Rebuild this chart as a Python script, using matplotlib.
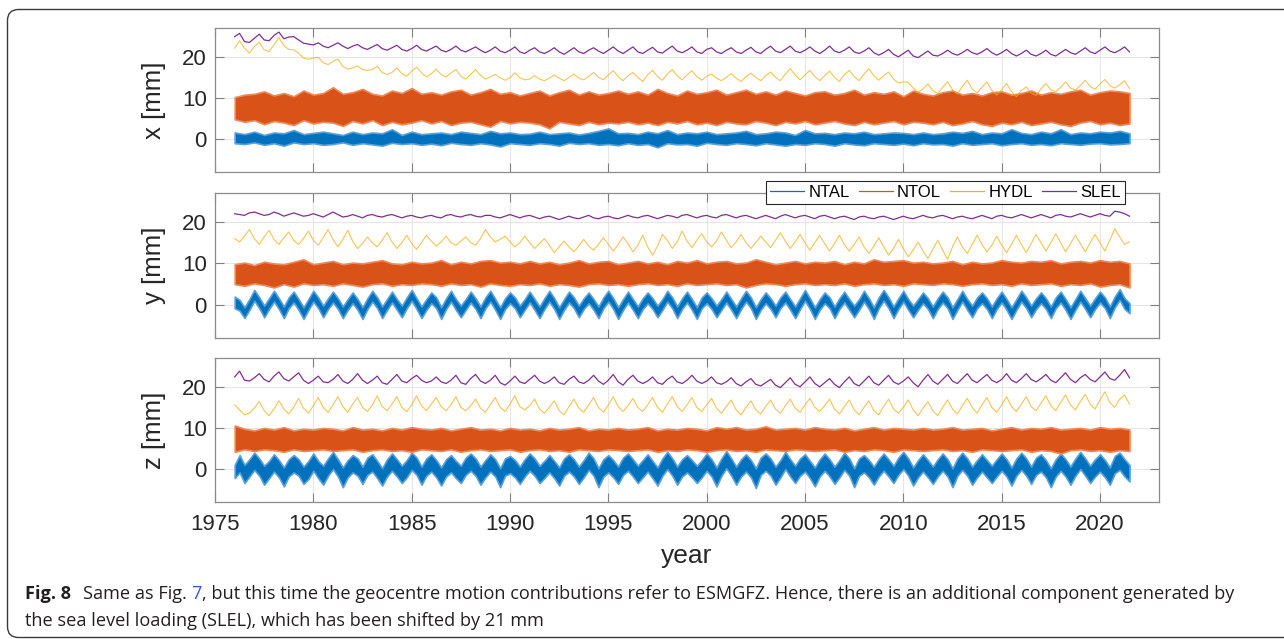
import numpy as np
import matplotlib
matplotlib.use('Agg')
import matplotlib.pyplot as plt
from matplotlib.lines import Line2D
from matplotlib.patches import FancyBboxPatch

plt.rcParams['font.family'] = ['Liberation Sans', 'DejaVu Sans']

# Geocentre motion contributions from ESMGFZ loading models [mm], 1976.0 - 2021.5.
# HYDL/SLEL and the NTAL y/z envelopes are quarterly samples, the NTOL and NTAL-x
# envelopes (lo/hi of the daily scatter) are half-yearly samples.
names = ['NTAL', 'NTOL', 'HYDL', 'SLEL']
colors = ['#0072BD', '#D95319', '#EDB120', '#7E2F8E']
ylabels = ['x [mm]', 'y [mm]', 'z [mm]']
year_ticks = [1975, 1980, 1985, 1990, 1995, 2000, 2005, 2010, 2015, 2020]
mm_ticks = [0, 10, 20]

# ---------------- x component ----------------
ntal_x_hi = [
    1.6, 1.2, 1.8, 1.0, 1.6, 1.4, 2.2, 1.2, 1.5, 1.8,
    1.4, 1.0, 1.8, 1.2, 1.6, 1.4, 2.4, 1.0, 1.8, 1.2,
    1.4, 1.6, 1.2, 1.8, 1.5, 1.2, 2.0, 1.4, 1.6, 1.2,
    1.3, 1.8, 1.2, 1.4, 1.6, 1.1, 1.5, 2.0, 2.6, 1.4,
    1.5, 1.2, 1.8, 1.4, 2.2, 1.2, 1.6, 1.4, 1.8, 1.2,
    1.4, 1.6, 2.0, 1.2, 1.4, 1.8, 1.6, 1.0, 2.2, 1.4,
    1.5, 1.2, 1.6, 1.4, 1.8, 1.2, 1.4, 1.6, 1.5, 1.2,
    1.6, 1.2, 1.4, 1.8, 1.5, 2.0, 1.2, 1.6, 1.4, 2.4,
    1.5, 1.2, 1.8, 1.4, 2.4, 1.2, 1.6, 1.4, 1.8, 1.6,
    2.0, 1.4,
]
ntal_x_lo = [
    -1.0, -1.2, -0.8, -1.4, -1.0, -1.6, -0.8, -1.2, -1.0, -1.4,
    -1.2, -0.8, -1.4, -1.0, -1.3, -1.6, -0.9, -1.2, -1.0, -1.4,
    -1.1, -1.5, -0.9, -1.2, -1.4, -1.0, -1.3, -1.8, -1.0, -1.2,
    -1.4, -1.0, -1.2, -1.6, -0.9, -1.2, -1.0, -1.4, -1.2, -1.5,
    -1.0, -1.4, -1.2, -2.0, -1.0, -1.3, -1.2, -1.6, -0.9, -1.2,
    -1.4, -1.0, -1.2, -1.5, -1.0, -1.3, -1.6, -1.2, -1.4, -1.0,
    -1.2, -1.6, -1.0, -1.3, -1.5, -1.0, -1.2, -1.4, -1.1, -1.5,
    -1.0, -1.3, -1.2, -1.6, -1.0, -1.4, -1.2, -1.0, -1.5, -1.2,
    -1.0, -1.4, -1.2, -1.5, -1.0, -1.2, -1.4, -1.1, -1.0, -1.3,
    -1.2, -1.0,
]
ntol_x_hi = [
    10.2, 10.8, 11.0, 11.6, 10.6, 11.2, 10.4, 11.8, 10.8, 11.2,
    12.6, 11.0, 11.4, 12.2, 11.0, 10.6, 11.8, 11.2, 12.4, 11.0,
    11.4, 10.8, 11.6, 12.0, 10.8, 11.4, 12.2, 11.0, 11.4, 10.6,
    11.2, 11.8, 10.6, 11.4, 12.0, 10.8, 11.6, 10.8, 11.2, 11.8,
    11.0, 11.6, 10.8, 12.2, 11.2, 10.6, 11.8, 11.0, 11.4, 12.0,
    10.8, 11.4, 12.0, 11.0, 11.6, 10.8, 11.8, 11.2, 10.6, 11.4,
    11.6, 10.8, 11.2, 12.0, 10.8, 11.4, 11.0, 11.6, 10.4, 11.8,
    11.0, 10.6, 11.4, 11.8, 10.8, 11.2, 10.6, 11.4, 11.6, 10.8,
    11.2, 11.8, 10.8, 11.4, 11.0, 11.6, 12.0, 10.8, 11.4, 11.8,
    11.6, 11.2,
]
ntol_x_lo = [
    4.8, 4.2, 4.6, 3.6, 4.4, 4.0, 3.4, 4.6, 3.8, 4.2,
    4.0, 3.2, 4.4, 3.8, 4.6, 3.4, 4.2, 3.6, 4.0, 4.6,
    3.8, 4.4, 3.4, 4.0, 4.2, 3.6, 3.0, 4.4, 3.8, 4.2,
    4.0, 3.6, 2.6, 4.2, 3.8, 3.4, 4.2, 3.6, 4.0, 3.8,
    4.2, 3.6, 4.0, 3.4, 4.2, 3.8, 4.4, 3.6, 4.0, 3.4,
    4.2, 3.8, 3.6, 4.4, 4.0, 3.4, 4.2, 3.8, 4.4, 3.6,
    4.0, 4.4, 3.8, 3.4, 4.2, 3.6, 4.0, 4.4, 3.6, 4.2,
    4.0, 3.6, 4.2, 3.4, 3.8, 4.4, 3.6, 3.2, 4.0, 3.6,
    4.2, 3.4, 3.8, 4.2, 3.6, 3.2, 4.0, 4.4, 3.6, 4.0,
    3.4, 3.8,
]
hydl_x = [
    22.1, 23.9, 22.1, 20.9, 22.5, 23.5, 21.7, 21.3, 22.9, 24.7, 22.7, 21.8, 21.7, 20.9, 19.7, 19.4, 19.7, 19.9, 18.6, 18.1,
    18.9, 19.4, 17.7, 17.0, 17.3, 17.8, 16.9, 16.7, 16.9, 17.7, 16.2, 15.7, 16.2, 17.3, 15.9, 15.3, 16.5, 17.5, 16.1, 15.1,
    15.9, 17.0, 15.7, 15.1, 16.1, 16.9, 15.3, 14.6, 15.7, 16.9, 15.5, 14.6, 15.1, 15.7, 14.9, 14.3, 14.9, 16.1, 14.9, 14.4,
    14.6, 15.4, 14.6, 14.2, 14.8, 15.6, 14.8, 14.2, 15.0, 15.8, 14.8, 14.4, 15.2, 16.2, 15.0, 14.4, 15.6, 16.6, 15.2, 14.2,
    15.4, 16.2, 15.0, 14.0, 15.6, 16.7, 15.2, 14.3, 15.8, 16.9, 15.4, 14.4, 15.6, 16.6, 15.2, 14.3, 15.3, 15.8, 14.8, 14.2,
    15.0, 15.9, 14.8, 14.0, 15.2, 16.0, 15.0, 14.2, 15.4, 16.3, 15.0, 14.2, 15.8, 17.1, 15.6, 14.4, 15.6, 16.7, 15.2, 14.2,
    15.4, 16.5, 15.0, 14.0, 15.6, 16.7, 15.2, 14.2, 15.8, 17.1, 15.4, 14.3, 15.4, 16.3, 14.6, 13.6, 13.9, 13.8, 12.4, 11.4,
    12.2, 13.4, 11.8, 11.0, 12.6, 13.9, 12.0, 11.0, 12.8, 14.3, 12.2, 11.2, 12.6, 13.9, 11.8, 10.7, 12.0, 13.5, 11.6, 10.3,
    11.8, 12.7, 11.2, 10.6, 12.2, 13.5, 12.0, 11.5, 12.6, 13.9, 12.4, 11.9, 13.0, 14.3, 12.8, 12.1, 13.4, 14.5, 13.0, 12.4,
    13.2, 14.2, 12.3,
]
slel_x = [
    24.9, 25.7, 23.7, 23.5, 24.5, 25.5, 24.1, 23.9, 25.2, 26.0, 24.4, 24.8, 24.9, 24.1, 23.3, 23.1, 22.9, 23.4, 22.6, 22.2,
    22.8, 23.4, 22.6, 22.0, 22.6, 23.0, 22.2, 21.8, 22.4, 23.0, 22.0, 21.6, 22.2, 22.8, 21.8, 21.4, 22.0, 22.8, 21.8, 21.4,
    22.0, 22.6, 21.6, 21.2, 21.8, 22.6, 21.6, 21.2, 21.8, 22.4, 21.6, 21.0, 21.6, 22.4, 21.4, 21.0, 21.6, 22.4, 21.2, 20.8,
    21.6, 22.2, 21.2, 20.8, 21.4, 22.2, 21.2, 20.6, 21.4, 22.2, 21.2, 20.8, 21.6, 22.2, 21.4, 20.8, 21.6, 22.4, 21.4, 20.8,
    21.6, 22.4, 21.2, 20.8, 21.6, 22.3, 21.2, 20.9, 21.8, 22.6, 21.4, 21.0, 21.6, 22.4, 21.2, 20.8, 21.8, 22.2, 21.2, 20.8,
    21.6, 22.2, 21.2, 20.8, 21.6, 22.3, 21.2, 20.8, 21.8, 22.6, 21.4, 21.0, 21.8, 22.6, 21.4, 21.0, 21.6, 22.4, 21.4, 20.8,
    21.6, 22.6, 21.4, 21.0, 21.6, 22.4, 21.2, 20.8, 21.4, 22.2, 21.0, 20.4, 21.0, 21.8, 20.6, 20.0, 20.8, 21.6, 20.2, 19.8,
    20.6, 21.4, 20.4, 20.2, 20.8, 21.6, 20.8, 20.4, 21.0, 21.8, 21.0, 20.6, 21.2, 22.0, 21.0, 20.4, 21.0, 21.8, 20.8, 20.2,
    20.8, 21.6, 20.6, 20.2, 20.8, 21.6, 20.6, 20.2, 21.0, 21.8, 21.0, 20.6, 21.4, 22.2, 21.2, 20.8, 21.6, 22.4, 21.4, 21.0,
    21.6, 22.4, 21.2,
]

# ---------------- y component ----------------
ntal_y_hi = [
    2.0, 1.2, -0.6, 1.4, 3.6, 1.8, -0.2, 1.6, 3.4, 1.6, -0.4, 1.8, 3.2, 1.4, -0.6, 1.4, 3.4, 1.8, -0.2, 1.6,
    3.2, 1.6, -0.4, 1.4, 3.0, 1.4, -0.6, 1.6, 3.4, 1.8, -0.4, 1.4, 3.2, 1.4, -0.2, 1.8, 3.6, 1.6, -0.4, 1.4,
    3.0, 1.8, -0.6, 1.6, 3.4, 1.4, -0.2, 1.4, 3.2, 1.6, -0.4, 1.8, 3.4, 1.4, -0.6, 1.6, 3.0, 1.8, -0.2, 1.4,
    3.2, 1.4, -0.4, 1.6, 3.4, 1.6, -0.6, 1.4, 3.2, 1.8, -0.2, 1.6, 3.0, 1.4, -0.4, 1.8, 3.4, 1.6, -0.6, 1.4,
    3.2, 1.4, -0.4, 1.6, 3.0, 1.6, -0.2, 1.4, 3.4, 1.8, -0.4, 1.6, 3.2, 1.4, -0.6, 1.8, 3.0, 1.6, -0.2, 1.4,
    3.2, 1.4, -0.4, 1.6, 3.4, 1.8, -0.6, 1.4, 3.0, 1.6, -0.2, 1.8, 3.2, 1.4, -0.4, 1.6, 3.6, 1.6, -0.6, 1.4,
    3.0, 1.8, -0.4, 1.6, 3.2, 1.4, -0.2, 1.4, 3.4, 1.6, -0.6, 1.8, 3.6, 1.8, -0.4, 1.6, 3.4, 1.4, -0.2, 1.4,
    3.0, 1.6, -0.4, 1.6, 3.2, 1.8, -0.6, 1.4, 3.4, 1.4, -0.2, 1.8, 3.0, 1.6, -0.4, 1.6, 3.2, 1.4, -0.6, 1.4,
    3.4, 1.8, -0.2, 1.6, 3.0, 1.6, -0.4, 1.8, 3.2, 1.4, -0.6, 1.4, 3.4, 1.6, -0.2, 1.6, 3.2, 1.8, -0.4, 2.0,
    3.8, 1.6, 0.4,
]
ntal_y_lo = [
    -0.8, -1.4, -3.2, -1.2, 1.0, -0.8, -3.0, -1.0, 0.8, -1.0, -3.2, -0.8, 0.6, -1.2, -3.4, -1.2, 0.8, -0.8, -3.0, -1.0,
    0.6, -1.0, -3.2, -1.2, 0.4, -1.2, -3.4, -1.0, 0.8, -0.8, -3.2, -1.2, 0.6, -1.2, -3.0, -0.8, 1.0, -1.0, -3.2, -1.2,
    0.4, -0.8, -3.4, -1.0, 0.8, -1.2, -3.0, -1.2, 0.6, -1.0, -3.2, -0.8, 0.8, -1.2, -3.4, -1.0, 0.4, -0.8, -3.0, -1.2,
    0.6, -1.2, -3.2, -1.0, 0.8, -1.0, -3.4, -1.2, 0.6, -0.8, -3.0, -1.0, 0.4, -1.2, -3.2, -0.8, 0.8, -1.0, -3.4, -1.2,
    0.6, -1.2, -3.2, -1.0, 0.4, -1.0, -3.0, -1.2, 0.8, -0.8, -3.2, -1.0, 0.6, -1.2, -3.4, -0.8, 0.4, -1.0, -3.0, -1.2,
    0.6, -1.2, -3.2, -1.0, 0.8, -0.8, -3.4, -1.2, 0.4, -1.0, -3.0, -0.8, 0.6, -1.2, -3.2, -1.0, 1.0, -1.0, -3.4, -1.2,
    0.4, -0.8, -3.2, -1.0, 0.6, -1.2, -3.0, -1.2, 0.8, -1.0, -3.4, -0.8, 1.0, -0.8, -3.2, -1.0, 0.8, -1.2, -3.0, -1.2,
    0.4, -1.0, -3.2, -1.0, 0.6, -0.8, -3.4, -1.2, 0.8, -1.2, -3.0, -0.8, 0.4, -1.0, -3.2, -1.0, 0.6, -1.2, -3.4, -1.2,
    0.8, -0.8, -3.0, -1.0, 0.4, -1.0, -3.2, -0.8, 0.6, -1.2, -3.4, -1.2, 0.8, -1.0, -3.0, -1.0, 0.6, -0.8, -3.2, -0.6,
    1.2, -1.0, -2.0,
]
ntol_y_hi = [
    9.8, 10.2, 9.6, 10.4, 10.0, 9.8, 10.4, 11.0, 9.8, 10.2,
    10.6, 9.8, 10.2, 10.0, 10.4, 10.8, 10.0, 9.8, 10.4, 10.0,
    10.2, 10.8, 9.8, 10.4, 10.0, 10.6, 10.8, 10.2, 10.4, 10.0,
    10.6, 10.0, 10.4, 9.8, 10.2, 10.8, 10.0, 10.4, 10.6, 9.8,
    10.2, 10.6, 10.0, 10.4, 9.8, 10.6, 10.2, 10.8, 10.0, 10.4,
    10.6, 10.0, 10.2, 11.0, 10.4, 9.8, 10.2, 10.6, 10.0, 10.4,
    10.2, 10.6, 9.8, 10.4, 10.0, 11.0, 10.4, 10.6, 10.8, 10.2,
    10.4, 10.0, 10.2, 10.6, 9.8, 10.4, 10.0, 10.2, 10.8, 10.4,
    10.2, 10.6, 10.4, 10.8, 10.0, 10.4, 10.6, 10.2, 10.8, 10.4,
    10.6, 10.0,
]
ntol_y_lo = [
    5.0, 4.6, 5.2, 4.8, 4.2, 5.0, 4.4, 5.2, 4.8, 5.0,
    4.6, 5.2, 4.8, 4.4, 5.0, 5.2, 4.6, 5.0, 4.8, 5.2,
    5.0, 4.6, 5.2, 4.8, 5.0, 4.4, 5.2, 4.8, 4.6, 5.0,
    4.8, 5.2, 4.6, 5.0, 4.8, 4.4, 5.0, 5.2, 4.8, 5.0,
    4.6, 5.0, 5.2, 4.8, 5.0, 4.6, 5.2, 4.8, 5.0, 5.2,
    4.8, 5.0, 4.2, 4.8, 5.2, 5.0, 4.6, 5.0, 5.2, 4.8,
    5.0, 4.8, 5.2, 4.6, 5.0, 5.2, 4.8, 5.0, 4.6, 5.2,
    5.0, 4.8, 5.2, 5.0, 4.6, 5.0, 5.2, 4.8, 5.0, 4.6,
    5.2, 4.8, 5.0, 5.2, 4.6, 5.0, 4.8, 5.2, 4.4, 4.8,
    5.0, 4.2,
]
hydl_y = [
    16.0, 15.2, 16.6, 18.2, 16.0, 14.6, 16.4, 18.0, 15.8, 14.6, 16.2, 17.6, 15.6, 14.6, 16.0, 17.8, 15.6, 14.4, 16.2, 18.2,
    15.8, 14.0, 15.8, 18.0, 15.4, 13.6, 14.8, 16.4, 15.0, 14.0, 15.6, 17.4, 15.2, 13.6, 15.0, 16.8, 14.8, 13.4, 15.0, 16.8,
    15.4, 14.2, 15.2, 16.6, 15.0, 14.4, 15.4, 16.4, 15.0, 14.4, 16.0, 18.2, 16.4, 15.2, 15.8, 16.6, 15.2, 14.0, 15.0, 16.6,
    15.0, 13.6, 14.8, 16.0, 14.4, 12.6, 14.0, 15.4, 14.0, 12.8, 14.2, 15.8, 14.2, 13.2, 14.6, 16.2, 14.6, 13.0, 14.6, 16.4,
    14.8, 12.8, 14.4, 16.8, 14.0, 12.0, 14.2, 17.0, 15.6, 13.6, 15.2, 17.8, 15.4, 13.8, 15.6, 17.2, 15.2, 14.0, 15.4, 17.6,
    15.6, 13.8, 15.2, 17.0, 15.0, 13.6, 15.0, 16.6, 15.2, 13.8, 15.6, 17.4, 15.4, 13.6, 15.2, 17.0, 15.0, 13.2, 15.0, 16.8,
    14.8, 13.0, 14.8, 16.8, 14.6, 13.0, 14.6, 16.4, 14.0, 12.4, 14.2, 16.2, 14.0, 12.0, 13.6, 15.8, 13.6, 11.6, 13.2, 15.2,
    13.0, 11.2, 13.4, 15.6, 13.2, 11.0, 14.0, 16.4, 14.0, 12.4, 14.6, 16.8, 14.6, 12.8, 14.4, 16.6, 14.4, 12.6, 14.6, 16.8,
    14.6, 12.6, 14.8, 17.0, 15.0, 13.0, 15.0, 17.2, 15.0, 12.8, 14.8, 16.8, 14.8, 12.8, 15.0, 17.0, 15.0, 13.0, 15.6, 18.4,
    16.4, 14.6, 15.2,
]
slel_y = [
    22.0, 21.8, 21.6, 22.2, 22.4, 22.0, 21.6, 21.8, 22.4, 22.0, 21.4, 21.8, 22.2, 21.8, 21.4, 21.6, 22.0, 21.6, 21.2, 21.8,
    22.4, 21.8, 21.2, 21.4, 21.8, 21.4, 21.0, 21.6, 21.8, 21.4, 21.2, 21.6, 21.8, 21.4, 21.0, 21.4, 21.6, 21.2, 21.0, 21.4,
    21.6, 21.2, 21.0, 21.6, 21.8, 21.4, 21.2, 21.6, 21.8, 21.4, 21.2, 21.6, 21.6, 21.2, 21.0, 21.4, 21.8, 21.4, 21.0, 21.4,
    21.6, 21.2, 20.8, 21.2, 21.4, 21.0, 20.6, 21.0, 21.4, 21.0, 20.8, 21.2, 21.6, 21.0, 20.8, 21.2, 21.4, 21.0, 20.8, 21.2,
    21.6, 21.2, 21.0, 21.4, 21.6, 21.2, 20.8, 21.2, 21.6, 21.4, 21.0, 21.6, 21.8, 21.4, 21.0, 21.4, 21.6, 21.2, 21.0, 21.6,
    21.8, 21.4, 21.0, 21.4, 21.6, 21.2, 20.8, 21.2, 21.6, 21.2, 20.8, 21.4, 21.8, 21.4, 21.0, 21.4, 21.6, 21.2, 20.8, 21.4,
    21.6, 21.2, 20.8, 21.2, 21.4, 21.0, 20.6, 21.2, 21.4, 21.0, 20.8, 21.2, 21.4, 21.0, 20.6, 21.0, 21.4, 21.0, 20.8, 21.2,
    21.6, 21.2, 21.0, 21.4, 21.6, 21.2, 20.8, 21.2, 21.4, 21.0, 20.8, 21.2, 21.6, 21.2, 20.8, 21.4, 21.6, 21.2, 21.0, 21.4,
    21.8, 21.4, 21.0, 21.4, 21.8, 21.4, 21.0, 21.6, 21.8, 21.4, 21.2, 21.6, 22.0, 21.6, 21.2, 21.6, 22.0, 21.6, 21.4, 22.6,
    22.4, 22.0, 21.4,
]

# ---------------- z component ----------------
ntal_z_hi = [
    1.0, 3.4, 1.0, 2.4, 4.0, 2.6, 0.8, 2.0, 3.6, 2.2, 0.4, 2.4, 3.4, 2.4, 0.6, 2.0, 3.8, 2.0, 0.8, 2.6,
    4.2, 2.4, 0.4, 2.2, 3.4, 2.6, 0.6, 2.8, 3.6, 2.0, 0.2, 2.4, 3.8, 2.4, 0.8, 2.2, 4.0, 2.8, 0.6, 2.6,
    3.6, 2.2, 0.4, 2.4, 3.4, 2.0, 0.8, 2.8, 3.8, 2.6, 0.6, 2.2, 3.6, 2.4, 0.2, 2.6, 3.2, 2.2, 0.6, 2.4,
    3.8, 2.6, 0.8, 2.0, 3.4, 2.0, 0.4, 2.6, 3.6, 2.4, 0.6, 2.2, 4.0, 2.6, 0.2, 2.4, 3.4, 2.2, 0.6, 2.8,
    3.8, 2.4, 0.8, 2.2, 3.6, 2.0, 0.4, 2.6, 4.2, 2.6, 0.6, 2.4, 3.4, 2.2, 0.8, 2.2, 3.8, 2.4, 0.4, 2.6,
    4.4, 2.6, 0.6, 2.4, 3.6, 2.2, 0.2, 2.8, 3.8, 2.6, 0.6, 2.2, 4.2, 2.4, 0.8, 2.6, 3.6, 2.0, 0.4, 2.4,
    3.8, 2.4, 0.6, 2.2, 4.0, 2.6, 0.2, 2.6, 3.4, 2.2, 0.6, 2.4, 3.8, 2.4, 0.8, 2.8, 4.2, 2.6, 0.4, 2.2,
    3.6, 2.2, 0.6, 2.4, 3.8, 2.4, 0.2, 2.6, 4.0, 2.6, 0.6, 2.2, 3.6, 2.2, 0.8, 2.4, 3.8, 2.4, 0.4, 2.6,
    4.0, 2.6, 0.6, 2.8, 3.6, 2.2, 0.2, 2.4, 3.8, 2.4, 0.6, 2.6, 4.2, 2.6, 0.8, 2.4, 3.6, 2.2, 0.4, 3.2,
    4.0, 2.4, 1.0,
]
ntal_z_lo = [
    -2.2, -0.8, -3.4, -1.8, -0.2, -1.6, -3.8, -2.2, -0.6, -2.0, -4.2, -1.8, -0.8, -1.6, -3.6, -2.4, -0.4, -2.2, -3.8, -1.6,
    0.0, -1.8, -4.4, -2.0, -0.8, -1.6, -3.6, -1.4, -0.6, -2.2, -4.0, -1.8, -0.4, -1.8, -3.4, -2.0, -0.2, -1.4, -3.8, -1.6,
    -0.6, -2.0, -4.0, -1.8, -0.8, -2.2, -3.4, -1.4, -0.4, -1.6, -3.8, -2.0, -0.6, -1.8, -4.4, -1.6, -1.0, -2.0, -3.6, -1.8,
    -0.4, -1.6, -3.4, -2.2, -0.8, -2.2, -4.0, -1.6, -0.6, -1.8, -3.6, -2.0, -0.2, -1.6, -4.4, -1.8, -0.8, -2.0, -3.6, -1.4,
    -0.4, -1.8, -3.4, -2.0, -0.6, -2.2, -4.0, -1.6, 0.0, -1.6, -3.8, -1.8, -0.8, -2.0, -3.4, -2.0, -0.4, -1.8, -4.2, -1.6,
    0.2, -1.6, -3.8, -1.8, -0.6, -2.0, -4.6, -1.4, -0.4, -1.6, -3.8, -2.0, 0.0, -1.8, -3.4, -1.6, -0.6, -2.2, -4.2, -1.8,
    -0.4, -1.8, -3.6, -2.0, -0.2, -1.6, -4.4, -1.6, -0.8, -2.0, -3.8, -1.8, -0.4, -1.8, -3.4, -1.4, 0.0, -1.6, -4.0, -2.0,
    -0.6, -2.0, -3.6, -1.8, -0.4, -1.8, -4.4, -1.6, -0.2, -1.6, -3.8, -2.0, -0.6, -2.0, -3.4, -1.8, -0.4, -1.8, -4.0, -1.6,
    -0.2, -1.6, -3.6, -1.4, -0.6, -2.0, -4.4, -1.8, -0.4, -1.8, -3.8, -1.6, 0.0, -1.6, -3.4, -1.8, -0.6, -2.0, -3.8, -1.0,
    -0.2, -1.8, -3.0,
]
ntol_z_hi = [
    10.6, 9.8, 9.4, 10.0, 9.6, 10.2, 9.4, 9.8, 9.6, 10.0,
    9.8, 9.4, 10.2, 9.6, 9.8, 9.4, 10.0, 9.6, 10.2, 9.8,
    9.6, 10.0, 9.4, 9.8, 10.2, 9.6, 9.8, 9.4, 10.0, 9.6,
    9.8, 9.4, 10.0, 9.6, 9.8, 10.2, 9.4, 9.8, 9.6, 10.0,
    9.6, 9.8, 10.2, 9.4, 9.8, 9.6, 10.0, 9.8, 9.4, 10.2,
    9.8, 10.2, 9.6, 9.8, 10.4, 9.6, 9.8, 10.0, 9.6, 10.2,
    9.8, 9.6, 10.0, 9.4, 9.8, 10.2, 9.6, 10.0, 9.8, 9.6,
    10.0, 9.6, 9.8, 10.2, 9.6, 9.8, 10.0, 9.4, 9.8, 10.2,
    9.6, 10.0, 9.8, 10.2, 9.6, 9.8, 10.0, 9.6, 10.2, 9.8,
    10.0, 9.6,
]
ntol_z_lo = [
    4.2, 4.8, 4.4, 4.8, 4.6, 4.2, 4.8, 4.4, 4.6, 4.8,
    4.4, 4.6, 4.8, 4.2, 4.6, 4.8, 4.4, 4.6, 4.2, 4.8,
    4.6, 4.4, 4.8, 4.2, 4.6, 4.8, 4.4, 4.6, 4.8, 4.2,
    4.6, 4.8, 4.4, 4.6, 4.2, 4.8, 4.6, 4.4, 4.8, 4.6,
    4.4, 4.6, 4.8, 4.2, 4.6, 4.4, 4.8, 4.6, 4.2, 4.6,
    4.8, 4.4, 4.6, 4.2, 4.8, 4.6, 4.4, 4.8, 4.6, 4.4,
    4.6, 4.8, 4.2, 4.6, 4.4, 4.8, 4.6, 4.2, 4.8, 4.6,
    4.4, 4.6, 4.8, 4.4, 4.6, 4.2, 4.8, 4.6, 4.4, 4.6,
    4.8, 4.2, 4.6, 4.4, 3.8, 4.6, 4.8, 4.4, 4.6, 4.2,
    4.6, 4.4,
]
hydl_z = [
    15.6, 14.4, 13.2, 13.6, 14.8, 16.4, 14.2, 13.0, 14.6, 16.6, 14.6, 13.4, 15.0, 17.2, 14.8, 13.6, 15.4, 17.4, 15.0, 13.8,
    15.6, 17.6, 15.2, 13.8, 15.8, 17.4, 15.0, 14.0, 15.6, 17.8, 15.2, 14.2, 15.8, 17.6, 15.0, 14.0, 15.6, 17.8, 15.4, 14.2,
    15.8, 17.4, 15.2, 14.2, 15.6, 17.6, 15.0, 14.2, 15.4, 17.0, 14.8, 13.8, 15.6, 17.4, 15.0, 14.0, 15.8, 17.8, 15.2, 14.4,
    15.4, 17.0, 14.6, 13.6, 15.0, 16.6, 14.2, 13.2, 15.2, 17.0, 14.8, 13.8, 15.6, 17.4, 15.0, 13.8, 15.6, 17.6, 15.2, 14.0,
    15.4, 17.2, 15.0, 14.0, 15.6, 17.4, 15.0, 13.8, 15.8, 17.6, 15.2, 14.0, 15.6, 17.4, 15.0, 14.0, 15.6, 17.2, 14.8, 13.6,
    15.2, 16.8, 14.4, 13.2, 15.0, 16.6, 14.4, 13.4, 15.2, 16.8, 14.6, 13.6, 15.4, 17.0, 14.8, 13.8, 15.6, 17.2, 15.0, 14.0,
    15.4, 17.0, 14.6, 13.4, 15.2, 16.8, 14.4, 13.2, 15.0, 16.6, 14.2, 13.2, 15.2, 17.0, 14.6, 13.6, 15.0, 16.8, 14.4, 13.0,
    14.8, 16.4, 14.2, 13.0, 15.0, 16.8, 14.6, 13.4, 15.4, 17.2, 15.0, 13.6, 15.6, 17.4, 15.0, 13.8, 15.6, 17.6, 15.2, 14.0,
    15.8, 17.6, 15.2, 14.2, 16.0, 17.8, 15.4, 14.2, 16.2, 18.0, 15.6, 14.4, 16.4, 18.2, 15.8, 14.6, 16.8, 18.8, 16.2, 15.0,
    17.0, 18.0, 15.8,
]
slel_z = [
    22.4, 23.8, 21.6, 21.4, 22.2, 23.2, 21.8, 21.2, 22.6, 23.6, 22.0, 21.4, 22.4, 23.4, 21.6, 20.8, 21.6, 22.6, 21.2, 21.0,
    21.8, 23.0, 21.4, 20.8, 21.8, 23.2, 21.6, 20.8, 21.6, 22.6, 21.0, 20.6, 21.8, 23.0, 21.4, 21.0, 22.0, 22.8, 21.6, 21.0,
    21.4, 22.4, 21.2, 20.8, 21.6, 22.8, 21.0, 20.6, 22.0, 23.0, 21.4, 20.8, 21.6, 22.8, 21.0, 20.4, 21.4, 22.6, 21.2, 20.8,
    21.8, 22.8, 21.4, 20.8, 21.4, 22.4, 21.0, 20.6, 21.8, 22.6, 21.2, 20.8, 21.6, 22.8, 21.4, 20.6, 21.6, 23.0, 21.2, 20.4,
    21.8, 22.8, 21.4, 20.8, 21.4, 22.4, 21.0, 20.6, 21.8, 22.6, 21.2, 20.8, 21.6, 22.8, 21.4, 20.8, 21.4, 22.4, 21.0, 20.6,
    21.2, 22.2, 20.8, 20.2, 21.2, 22.0, 20.6, 20.2, 21.0, 21.8, 20.4, 19.8, 21.0, 22.2, 20.6, 20.0, 21.2, 22.4, 20.8, 20.0,
    21.0, 22.0, 20.6, 19.8, 21.2, 22.4, 20.8, 20.2, 21.4, 22.6, 21.0, 20.4, 21.6, 22.8, 21.2, 20.6, 21.4, 22.4, 21.0, 20.0,
    21.6, 23.0, 21.4, 20.6, 21.8, 23.0, 21.4, 20.8, 22.0, 23.2, 21.6, 21.0, 22.0, 23.0, 21.6, 21.0, 21.8, 23.2, 21.6, 21.0,
    22.0, 23.2, 21.8, 21.2, 22.0, 23.0, 21.6, 21.0, 22.2, 23.4, 21.8, 21.0, 22.2, 23.0, 21.8, 21.2, 22.4, 23.6, 22.0, 21.6,
    22.8, 24.2, 22.2,
]

panels = [
    (ntal_x_lo, ntal_x_hi, ntol_x_lo, ntol_x_hi, hydl_x, slel_x),
    (ntal_y_lo, ntal_y_hi, ntol_y_lo, ntol_y_hi, hydl_y, slel_y),
    (ntal_z_lo, ntal_z_hi, ntol_z_lo, ntol_z_hi, hydl_z, slel_z),
]


def years(v):
    # evenly spaced epochs over the span of the series
    return np.linspace(1976.0, 2021.5, len(v))


W, H = 1284, 639
fig = plt.figure(figsize=(W / 100, H / 100), dpi=100)

# axes boxes in pixels: (left, top, right, bottom)
boxes = [(215, 28, 1159, 172), (215, 193, 1159, 338), (215, 358, 1159, 502)]
axes = []
for (l, t, r, b) in boxes:
    axes.append(fig.add_axes([l / W, 1 - b / H, (r - l) / W, (b - t) / H]))

for i, (ax, data) in enumerate(zip(axes, panels)):
    al, ah, ol, oh, hy, sl = data
    # daily scatter drawn as its envelope, with a soft lighter rim
    ax.fill_between(years(al), al, ah, facecolor=colors[0],
                    edgecolor='#5aa0d8', lw=1.2)
    ax.fill_between(years(ol), ol, oh, facecolor=colors[1],
                    edgecolor='#ec8a5c', lw=1.2)
    ax.plot(years(hy), hy, color=colors[2], lw=0.8, alpha=0.75)
    ax.plot(years(sl), sl, color=colors[3], lw=0.9)

    ax.set_xlim(1975, 2023)
    ax.set_ylim(-8, 27)
    ax.set_xticks(year_ticks)
    ax.set_yticks(mm_ticks)
    ax.grid(True, color='#e6e6e6', lw=0.8)
    ax.set_axisbelow(True)
    ax.tick_params(direction='in', length=6.8, width=0.8, color='#7f7f7f',
                   top=True, right=True, labelsize=16, labelcolor='#262626')
    ax.tick_params(axis='y', pad=6)
    ax.tick_params(axis='x', pad=9, labelbottom=(i == 2))
    for s in ax.spines.values():
        s.set_color('#8c8c8c')
        s.set_linewidth(0.9)
    ax.set_ylabel(ylabels[i], fontsize=18.5, color='#262626')
    ax.yaxis.set_label_coords(-0.052, 0.5)

fig.text(687 / W, 1 - 556 / H, 'year', ha='center', va='center',
         fontsize=19, color='#262626')

handles = [Line2D([], [], color=c, lw=0.9) for c in colors]
leg = fig.legend(handles, names, ncol=4, loc='center',
                 bbox_to_anchor=(945.5 / W, 1 - 192.5 / H),
                 bbox_transform=fig.transFigure, frameon=True, fancybox=False,
                 edgecolor='#262626', framealpha=1, fontsize=12,
                 handlelength=2.05, handletextpad=0.25, columnspacing=0.55,
                 borderpad=0.25)
leg.get_frame().set_linewidth(0.8)

# caption
cap = dict(family=['Open Sans', 'DejaVu Sans'], size=13.1, color='#231f20')
fig.canvas.draw()
rend = fig.canvas.get_renderer()


def width_of(txt, **kw):
    t = fig.text(0, 0, txt, **kw)
    w = t.get_window_extent(renderer=rend).width
    t.remove()
    return w


x0 = 25
y1 = (H - 599) / H
y2 = (H - 626) / H
fig.text(x0 / W, y1, 'Fig. 8', fontweight='bold', va='baseline', **cap)
x = x0 + width_of('Fig. 8', fontweight='bold', **cap) + 12
fig.text(x / W, y1, 'Same as Fig.', va='baseline', **cap)
w_ref = width_of('Same as Fig. 7', **cap)
w_7 = width_of('7', **cap)
cap_blue = dict(cap, color='#3b4fd8')
fig.text((x + w_ref - w_7) / W, y1, '7', va='baseline', **cap_blue)
fig.text((x + w_ref) / W, y1,
         ', but this time the geocentre motion contributions refer to ESMGFZ. '
         'Hence, there is an additional component generated by',
         va='baseline', **cap)
fig.text(x0 / W, y2, 'the sea level loading (SLEL), which has been shifted by 21 mm',
         va='baseline', **cap)

# rounded card outline around figure and caption
card = FancyBboxPatch((7.5, H - 637.5), 1400, 637.5 - 9.5,
                      boxstyle='round,pad=0,rounding_size=11',
                      transform=None, fill=False, ec='#3a3a3a', lw=1.0)
fig.add_artist(card)

fig.savefig('out.png', dpi=100)
